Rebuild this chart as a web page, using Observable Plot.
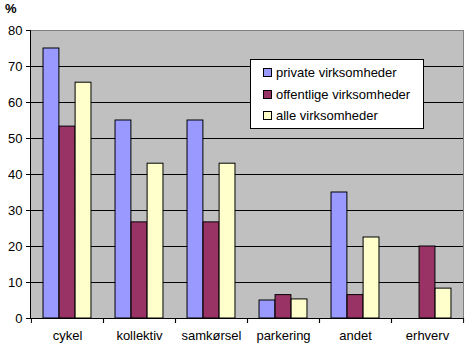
<!DOCTYPE html>
<html>
<head>
<meta charset="utf-8">
<script src="https://cdn.jsdelivr.net/npm/d3@7"></script>
<script src="https://cdn.jsdelivr.net/npm/@observablehq/plot@0.6"></script>
</head>
<body style="margin:0">
<div id="chart" style="position:relative;width:468px;height:355px;font-family:'Liberation Sans',Arial,sans-serif"></div>
<script>
const categories = ["cykel", "kollektiv", "samkørsel", "parkering", "andet", "erhverv"];
const series = ["private virksomheder", "offentlige virksomheder", "alle virksomheder"];
const privateVals = [75, 55, 55, 5, 35, 0];
const offentligeVals = [53.3, 26.7, 26.7, 6.5, 6.5, 20];
const alleVals = [65.5, 43, 43, 5.3, 22.5, 8.3];
const colors = ["#9999FF", "#993366", "#FFFFCC"];
const yTicks = [0, 10, 20, 30, 40, 50, 60, 70, 80];
const unitLabel = "%";

const valueLists = [privateVals, offentligeVals, alleVals];
const W = 468, H = 355, mL = 30, mR = 5, mT = 30, mB = 37;
const bandW = (W - mL - mR) / categories.length;
const groupPad = bandW / 6;
const barW = (bandW - 2 * groupPad) / series.length;

const chart = document.getElementById("chart");

// plot-area background behind the SVG
const bg = document.createElement("div");
bg.style.cssText = `position:absolute;left:${mL}px;top:${mT}px;width:${W - mL - mR}px;height:${H - mT - mB}px;background:#C0C0C0`;
chart.appendChild(bg);

const barMarks = series.map((s, j) =>
  Plot.barY(
    categories.map((c, i) => ({cat: c, series: s, value: valueLists[j][i]})).filter(d => d.value > 0),
    {x: "cat", y: "value", fill: colors[j], stroke: "#000", strokeWidth: 1,
     insetLeft: groupPad + barW * j, insetRight: bandW - groupPad - barW * (j + 1)}
  )
);

const plot = Plot.plot({
  width: W,
  height: H,
  marginTop: mT,
  marginBottom: mB,
  marginLeft: mL,
  marginRight: mR,
  style: {fontFamily: "'Liberation Sans', Arial, sans-serif", fontSize: "13px", color: "#000", background: "transparent", position: "relative"},
  x: {domain: categories, padding: 0, label: null},
  y: {domain: [0, 80], label: null},
  marks: [
    Plot.gridY({ticks: yTicks.slice(1, -1), stroke: "#000", strokeOpacity: 1, strokeWidth: 1}),
    Plot.frame({anchor: "top", stroke: "#808080"}),
    Plot.frame({anchor: "right", stroke: "#808080"}),
    ...barMarks,
    Plot.frame({anchor: "left", stroke: "#000"}),
    Plot.frame({anchor: "bottom", stroke: "#000"}),
    Plot.axisY({ticks: yTicks, tickSize: 4, tickPadding: 4, label: null}),
    Plot.axisX({tickSize: 0, tickPadding: 12, label: null}),
    Plot.axisX({text: null, tickSize: 5, dx: -bandW / 2, label: null}),
    Plot.axisX({text: null, tickSize: 5, dx: bandW / 2, label: null})
  ]
});
chart.appendChild(plot);

const unit = document.createElement("div");
unit.textContent = unitLabel;
unit.style.cssText = "position:absolute;left:5px;top:1px;font-weight:bold;font-size:13px";
chart.appendChild(unit);

const legend = document.createElement("div");
legend.style.cssText = "position:absolute;left:250px;top:59px;width:172px;height:66px;background:#fff;border:1px solid #000;font-size:13px;padding-top:2px";
series.forEach((s, j) => {
  const it = document.createElement("div");
  it.style.cssText = "display:flex;align-items:center;height:21.5px;padding-left:12px";
  const sw = document.createElement("div");
  sw.style.cssText = "width:7px;height:7px;border:1px solid #000;margin-right:4px;background:" + colors[j];
  const t = document.createElement("span");
  t.textContent = s;
  it.appendChild(sw);
  it.appendChild(t);
  legend.appendChild(it);
});
chart.appendChild(legend);
</script>
</body>
</html>
